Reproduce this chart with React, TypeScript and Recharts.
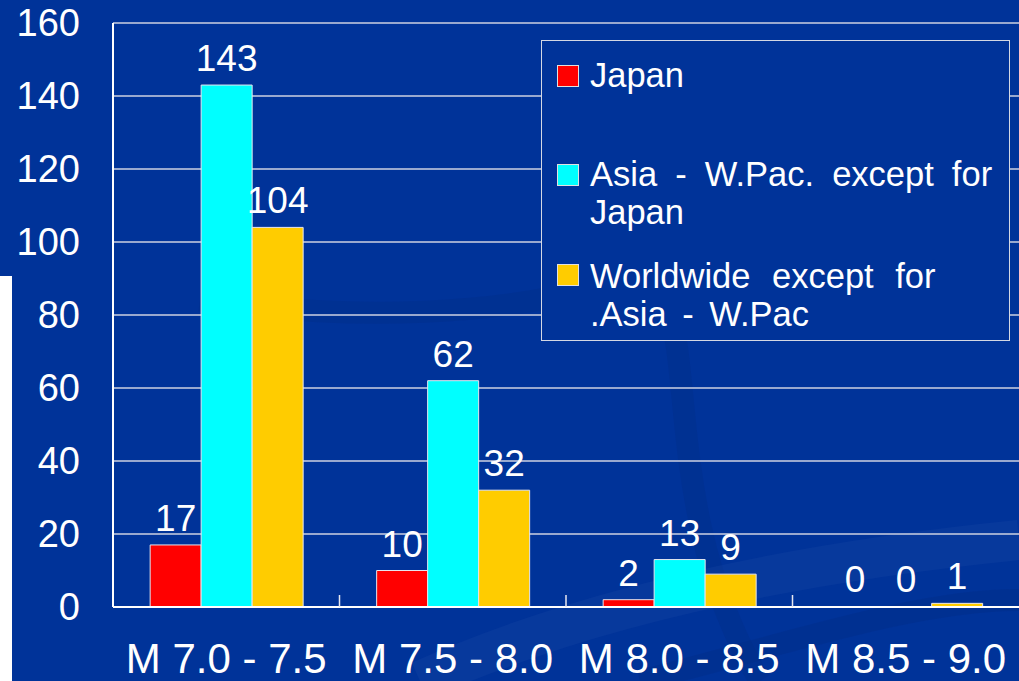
import React from "react";
import {
  BarChart,
  Bar,
  XAxis,
  YAxis,
  CartesianGrid,
  Legend,
  LabelList,
  Rectangle,
} from "recharts";

const categories = ["M 7.0 - 7.5", "M 7.5 - 8.0", "M 8.0 - 8.5", "M 8.5 - 9.0"];
const japan = [17, 10, 2, 0];
const asiaWPac = [143, 62, 13, 0];
const worldwide = [104, 32, 9, 1];
const yTicks = [0, 20, 40, 60, 80, 100, 120, 140, 160];

const seriesNames = [
  "Japan",
  "Asia - W.Pac. except for\nJapan",
  "Worldwide except for\n.Asia - W.Pac",
];

const data = categories.map((name, i) => ({
  name,
  japan: japan[i],
  asia: asiaWPac[i],
  world: worldwide[i],
}));

const W = 1019;
const H = 681;
const PLOT_LEFT = 113;
const BG = "#003399";
const FONT = "'Liberation Sans', Arial, sans-serif";

const XTick = (props: any) => {
  const { x, y, payload, index } = props;
  const band = (W - PLOT_LEFT) / categories.length;
  return (
    <g>
      {index < categories.length - 1 && (
        <line
          x1={x + band / 2}
          x2={x + band / 2}
          y1={y - 12}
          y2={y}
          stroke="#e8e8f0"
          strokeWidth={1.5}
        />
      )}
      <text
        x={x}
        y={y + 66}
        textAnchor="middle"
        fill="#ffffff"
        fontSize={42}
        fontFamily={FONT}
      >
        {payload.value}
      </text>
    </g>
  );
};

// bars with a zero value keep their label but draw no rectangle
const BarShape = (props: any) => {
  const v = Array.isArray(props.value) ? props.value[1] - props.value[0] : props.value;
  if (!v) return <g />;
  return <Rectangle {...props} />;
};

const legendItemTops = [24, 123, 223];
const legendTextTops = [15, 114, 216];
const legendWordSpacing = [[0], [8.5, 0], [12, 6]];

const renderLegend = (props: any) => {
  const payload = [...(props.payload || [])].sort(
    (a: any, b: any) => seriesNames.indexOf(a.value) - seriesNames.indexOf(b.value)
  );
  return (
    <div
      style={{
        position: "relative",
        width: 469,
        height: 301,
        border: "1.5px solid #d4d8e4",
        background: BG,
        boxSizing: "border-box",
        fontFamily: FONT,
        color: "#ffffff",
        fontSize: 34.5,
        lineHeight: "38px",
      }}
    >
      {payload.map((p: any, i: number) => (
        <React.Fragment key={i}>
          <div
            style={{
              position: "absolute",
              left: 15,
              top: legendItemTops[i],
              width: 22,
              height: 22,
              background: p.color,
              border: "1px solid #e0e0e0",
              boxSizing: "border-box",
            }}
          />
          <div
            style={{
              position: "absolute",
              left: 48,
              top: legendTextTops[i],
              whiteSpace: "nowrap",
            }}
          >
            {String(p.value)
              .split("\n")
              .map((line, j) => (
                <div key={j} style={{ wordSpacing: legendWordSpacing[i][j] }}>
                  {line}
                </div>
              ))}
          </div>
        </React.Fragment>
      ))}
    </div>
  );
};

export default function App() {
  return (
    <div
      style={{
        position: "absolute",
        left: 0,
        top: 0,
        width: W,
        height: H,
        background: BG,
        overflow: "hidden",
      }}
    >
      <svg
        width={W}
        height={H}
        style={{ position: "absolute", left: 0, top: 0 }}
      >
        <path
          d="M 200 300 C 420 330, 560 300, 620 280 C 720 260, 640 480, 760 681"
          fill="none"
          stroke="#002a80"
          strokeWidth={22}
          opacity={0.25}
        />
        <path
          d="M 420 681 C 600 600, 820 560, 1019 540"
          fill="none"
          stroke="#1a4aa8"
          strokeWidth={40}
          opacity={0.25}
        />
        <path
          d="M 640 681 C 800 640, 920 600, 1019 600"
          fill="none"
          stroke="#002a80"
          strokeWidth={22}
          opacity={0.3}
        />
      </svg>
      <div
        style={{
          position: "absolute",
          left: 0,
          top: 276,
          width: 12,
          height: H - 276,
          background: "#ffffff",
        }}
      />
      <div style={{ position: "absolute", left: 0, top: 0 }}>
        <BarChart
          width={W}
          height={H}
          data={data}
          margin={{ top: 23, right: 0, left: 0, bottom: 0 }}
          barCategoryGap="16.4%"
          barGap={0}
        >
          <CartesianGrid vertical={false} stroke="#cdd2e2" strokeWidth={1.5} />
          <XAxis
            dataKey="name"
            height={74}
            tickSize={0}
            tickMargin={0}
            tickLine={false}
            axisLine={{ stroke: "#ffffff", strokeWidth: 2 }}
            tick={<XTick />}
            interval={0}
          />
          <YAxis
            domain={[0, 160]}
            ticks={yTicks}
            width={PLOT_LEFT}
            tickSize={0}
            tickMargin={33}
            tickLine={false}
            axisLine={{ stroke: "#ffffff", strokeWidth: 2 }}
            tick={{ fill: "#ffffff", fontSize: 38, fontFamily: FONT }}
          />
          <Legend
            content={renderLegend}
            layout="horizontal"
            verticalAlign="middle"
            align="center"
            wrapperStyle={{ left: 541, top: 40, width: 469, height: 301 }}
          />
          <Bar
            dataKey="japan"
            name={seriesNames[0]}
            fill="#ff0000"
            stroke="#e6e6ee"
            strokeWidth={1}
            minPointSize={1}
            shape={BarShape}
            isAnimationActive={false}
          >
            <LabelList
              dataKey="japan"
              position="top"
              offset={14}
              fill="#ffffff"
              fontSize={37}
              fontFamily={FONT}
            />
          </Bar>
          <Bar
            dataKey="asia"
            name={seriesNames[1]}
            fill="#00ffff"
            stroke="#e6e6ee"
            strokeWidth={1}
            minPointSize={1}
            shape={BarShape}
            isAnimationActive={false}
          >
            <LabelList
              dataKey="asia"
              position="top"
              offset={14}
              fill="#ffffff"
              fontSize={37}
              fontFamily={FONT}
            />
          </Bar>
          <Bar
            dataKey="world"
            name={seriesNames[2]}
            fill="#ffcc00"
            stroke="#e6e6ee"
            strokeWidth={1}
            minPointSize={1}
            shape={BarShape}
            isAnimationActive={false}
          >
            <LabelList
              dataKey="world"
              position="top"
              offset={14}
              fill="#ffffff"
              fontSize={37}
              fontFamily={FONT}
            />
          </Bar>
        </BarChart>
      </div>
    </div>
  );
}
